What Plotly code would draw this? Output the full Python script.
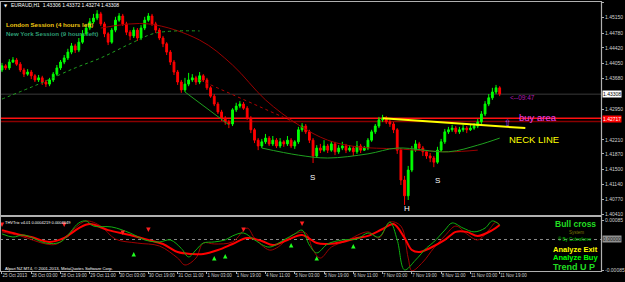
import plotly.graph_objects as go

# ---------------- data ----------------
bars = list(range(137))
first_open = 1.4389
closes = [
    1.4399, 1.4394, 1.4408, 1.4413, 1.4403, 1.4389, 1.4379, 1.4384, 1.4375, 1.4365,
    1.4370, 1.4360, 1.4355, 1.4365, 1.4379, 1.4394, 1.4408, 1.4418, 1.4432, 1.4447,
    1.4437, 1.4456, 1.4476, 1.4490, 1.4505, 1.4514, 1.4524, 1.4500, 1.4476, 1.4456,
    1.4485, 1.4509, 1.4519, 1.4500, 1.4480, 1.4471, 1.4485, 1.4466, 1.4490, 1.4509,
    1.4519, 1.4500, 1.4485, 1.4466, 1.4452, 1.4432, 1.4408, 1.4384, 1.4360, 1.4341,
    1.4355, 1.4365, 1.4370, 1.4360, 1.4375, 1.4365, 1.4346, 1.4326, 1.4307, 1.4288,
    1.4273, 1.4264, 1.4259, 1.4293, 1.4302, 1.4307, 1.4297, 1.4273, 1.4245, 1.4220,
    1.4206, 1.4216, 1.4225, 1.4211, 1.4220, 1.4206, 1.4216, 1.4211, 1.4220, 1.4206,
    1.4216, 1.4245, 1.4254, 1.4240, 1.4220, 1.4182, 1.4201, 1.4196, 1.4206, 1.4196,
    1.4211, 1.4192, 1.4201, 1.4206, 1.4196, 1.4201, 1.4192, 1.4206, 1.4196, 1.4201,
    1.4220, 1.4240, 1.4254, 1.4269, 1.4273, 1.4264, 1.4259, 1.4245, 1.4196, 1.4124,
    1.4086, 1.4148, 1.4196, 1.4211, 1.4201, 1.4192, 1.4182, 1.4177, 1.4167, 1.4196,
    1.4216, 1.4240, 1.4245, 1.4249, 1.4240, 1.4245, 1.4249, 1.4245, 1.4249, 1.4254,
    1.4264, 1.4283, 1.4307, 1.4322, 1.4336, 1.4346, 1.4331]
highs = [
    1.4406, 1.4403, 1.4415, 1.4420, 1.4418, 1.4408, 1.4394, 1.4391, 1.4389, 1.4379,
    1.4377, 1.4375, 1.4365, 1.4370, 1.4384, 1.4401, 1.4413, 1.4425, 1.4440, 1.4454,
    1.4452, 1.4466, 1.4485, 1.4500, 1.4514, 1.4524, 1.4533, 1.4529, 1.4505, 1.4480,
    1.4490, 1.4517, 1.4526, 1.4524, 1.4505, 1.4485, 1.4492, 1.4490, 1.4497, 1.4517,
    1.4526, 1.4524, 1.4505, 1.4490, 1.4471, 1.4456, 1.4437, 1.4413, 1.4389, 1.4365,
    1.4370, 1.4382, 1.4379, 1.4375, 1.4384, 1.4379, 1.4370, 1.4350, 1.4331, 1.4312,
    1.4293, 1.4278, 1.4269, 1.4297, 1.4310, 1.4314, 1.4312, 1.4302, 1.4278, 1.4249,
    1.4225, 1.4223, 1.4235, 1.4230, 1.4230, 1.4225, 1.4225, 1.4220, 1.4230, 1.4225,
    1.4220, 1.4252, 1.4261, 1.4259, 1.4245, 1.4225, 1.4208, 1.4211, 1.4220, 1.4211,
    1.4218, 1.4216, 1.4208, 1.4216, 1.4211, 1.4208, 1.4206, 1.4218, 1.4211, 1.4206,
    1.4225, 1.4245, 1.4259, 1.4276, 1.4281, 1.4278, 1.4269, 1.4264, 1.4249, 1.4201,
    1.4134, 1.4158, 1.4206, 1.4220, 1.4216, 1.4206, 1.4196, 1.4189, 1.4182, 1.4204,
    1.4223, 1.4247, 1.4252, 1.4257, 1.4254, 1.4252, 1.4257, 1.4254, 1.4257, 1.4261,
    1.4271, 1.4290, 1.4314, 1.4331, 1.4346, 1.4353, 1.4350]
lows = [
    1.4384, 1.4389, 1.4389, 1.4406, 1.4399, 1.4384, 1.4372, 1.4375, 1.4367, 1.4360,
    1.4360, 1.4353, 1.4348, 1.4350, 1.4360, 1.4375, 1.4389, 1.4403, 1.4413, 1.4427,
    1.4430, 1.4432, 1.4452, 1.4471, 1.4485, 1.4500, 1.4509, 1.4495, 1.4468, 1.4449,
    1.4452, 1.4480, 1.4505, 1.4495, 1.4473, 1.4461, 1.4466, 1.4459, 1.4461, 1.4485,
    1.4505, 1.4495, 1.4478, 1.4461, 1.4444, 1.4425, 1.4401, 1.4377, 1.4353, 1.4334,
    1.4336, 1.4350, 1.4360, 1.4353, 1.4355, 1.4360, 1.4341, 1.4322, 1.4302, 1.4283,
    1.4266, 1.4257, 1.4249, 1.4254, 1.4288, 1.4297, 1.4293, 1.4269, 1.4237, 1.4213,
    1.4196, 1.4201, 1.4211, 1.4206, 1.4206, 1.4201, 1.4201, 1.4204, 1.4206, 1.4201,
    1.4199, 1.4211, 1.4240, 1.4235, 1.4213, 1.4165, 1.4177, 1.4189, 1.4192, 1.4189,
    1.4192, 1.4184, 1.4187, 1.4196, 1.4189, 1.4192, 1.4182, 1.4187, 1.4189, 1.4194,
    1.4196, 1.4216, 1.4235, 1.4249, 1.4264, 1.4259, 1.4252, 1.4237, 1.4187, 1.4112,
    1.4064, 1.4076, 1.4143, 1.4192, 1.4194, 1.4182, 1.4175, 1.4167, 1.4155, 1.4163,
    1.4192, 1.4211, 1.4235, 1.4240, 1.4235, 1.4235, 1.4240, 1.4237, 1.4242, 1.4245,
    1.4249, 1.4259, 1.4278, 1.4302, 1.4317, 1.4331, 1.4326]
opens = [first_open] + closes[:-1]

# moving averages / trend lines (bar index, price)
slow_ma_bars = [27, 40, 54, 63, 72, 81, 89, 97, 108, 122, 130]
slow_ma_vals = [1.4490, 1.4500, 1.4461, 1.4401, 1.4317, 1.4257, 1.4220, 1.4204, 1.4199, 1.4192, 1.4196]
fast_ma_bars = [0, 10, 20, 27, 35, 42, 54]
fast_ma_vals = [1.4319, 1.4355, 1.4394, 1.4418, 1.4452, 1.4478, 1.4483]
lower_ma_bars = [71, 81, 89, 100, 108, 122, 130, 136]
lower_ma_vals = [1.4201, 1.4184, 1.4177, 1.4187, 1.4201, 1.4192, 1.4208, 1.4225]
green_trend_bars = [50, 62]
green_trend_vals = [1.4336, 1.4257]
red_trend_bars = [54, 81]
red_trend_vals = [1.4365, 1.4259]
neck_bars = [104, 143]
neck_vals = [1.4273, 1.4249]
buy_area_levels = [1.42726, 1.42649]
bid_price = 1.43308

price_ticks = [1.45515, 1.45150, 1.44780, 1.44420, 1.44050, 1.43680, 1.42950,
               1.42210, 1.41870, 1.41500, 1.41140, 1.40770, 1.40410]
label_bars = [0, 8, 16, 24, 32, 40, 48, 56, 64, 72, 80, 88, 96, 104, 112, 120, 128, 136]
time_labels = ["25 Oct 2013", "28 Oct 03:00", "28 Oct 19:00", "29 Oct 11:00", "30 Oct 03:00",
               "30 Oct 19:00", "31 Oct 11:00", "1 Nov 03:00", "1 Nov 19:00", "4 Nov 11:00",
               "5 Nov 03:00", "5 Nov 19:00", "6 Nov 11:00", "7 Nov 03:00", "7 Nov 19:00",
               "8 Nov 11:00", "11 Nov 03:00", "11 Nov 19:00"]

# indicator (THVTrix)
green_bars = [0, 3, 6, 12, 16, 21, 23, 25, 30, 35, 39, 43, 46, 49, 51, 53, 55, 58, 61, 63, 66, 69, 73,
              77, 80, 82, 84, 86, 89, 93, 97, 100, 103, 106, 108, 110, 113, 116, 118, 121, 123, 126,
              129, 132, 134, 136]
green_vals = [0.00025, 0.00011, 0.00020, -0.00016, -0.00011, 0.00074, 0.00083, 0.00060, 0.00056,
              0.00029, -0.00002, -0.00011, -0.00002, -0.00040, -0.00078, -0.00047, -0.00016, -0.00011,
              -0.00002, 0.00016, 0.00029, -0.00002, -0.00034, -0.00002, 0.00025, 0.00042, -0.00025,
              -0.00060, -0.00020, -0.00002, 0.00002, 0.00029, 0.00011, 0.00078, -0.00002, -0.00136,
              -0.00092, -0.00038, -0.00011, 0.00042, 0.00074, 0.00051, 0.00034, 0.00051, 0.00083, 0.00065]
dred_bars = [0, 5, 12, 15, 20, 23, 27, 31, 37, 43, 48, 50, 53, 55, 58, 63, 67, 69, 73, 75, 80, 83, 85,
             87, 90, 94, 100, 103, 106, 109, 111, 112, 115, 118, 121, 124, 127, 130, 133, 135, 136]
dred_vals = [0.00034, 0.00016, -0.00020, -0.00020, 0.00051, 0.00083, 0.00060, 0.00002, -0.00016,
             -0.00029, -0.00083, -0.00114, -0.00083, -0.00016, -0.00020, -0.00011, 0.00051, 0.00007,
             -0.00047, -0.00038, 0.00025, 0.00029, -0.00047, -0.00083, -0.00034, -0.00007, 0.00034,
             0.00007, 0.00078, 0.00060, -0.00083, -0.00140, -0.00101, -0.00038, 0.00016, 0.00060,
             0.00025, -0.00002, 0.00042, 0.00078, 0.00065]
red_bars = [0, 4, 8, 13, 17, 21, 24, 29, 35, 40, 44, 48, 52, 55, 59, 63, 67, 71, 74, 78, 82, 86, 89,
            93, 97, 100, 104, 107, 110, 112, 114, 117, 121, 124, 127, 130, 134, 136]
red_vals = [0.00042, 0.00025, 0.00011, -0.00011, 0.00007, 0.00051, 0.00069, 0.00042, 0.00020,
            -0.00002, -0.00020, -0.00056, -0.00065, -0.00065, -0.00047, -0.00020, 0.00007, -0.00007,
            -0.00025, -0.00002, 0.00020, -0.00016, -0.00020, -0.00011, 0.00007, 0.00016, 0.00047,
            0.00069, 0.00007, -0.00047, -0.00056, -0.00038, -0.00002, 0.00034, 0.00034, 0.00016,
            0.00042, 0.00065]
sell_arrow_bars = [0, 17, 33, 40, 66, 82]
sell_arrow_vals = [0.00056, 0.00056, 0.00020, 0.00034, 0.00034, 0.00060]
buy_arrow_bars = [36, 58, 61, 79, 86, 96]
buy_arrow_vals = [-0.00056, -0.00074, -0.00065, -0.00016, -0.00074, -0.00020]
ind_ticks = [0.00085, -0.00138]
ind_ticktext = ["0.00085", "-0.00085"]

# ---------------- figure ----------------
W, H = 625, 282
ML, MR, MT, MB = 0, 20, 2, 11
PW = W - ML - MR
PH = H - MT - MB
BAR_PX = 3.684
XMIN = -2 / BAR_PX
XMAX = XMIN + PW / BAR_PX


def PX(x):
    return (x - ML) / PW


def PY(y):
    return (H - MB - y) / PH


FONT = "Liberation Sans, Arial, sans-serif"

fig = go.Figure()
fig.add_trace(go.Candlestick(
    x=bars, open=opens, high=highs, low=lows, close=closes,
    increasing=dict(line=dict(color="#00ff00", width=1), fillcolor="#00ff00"),
    decreasing=dict(line=dict(color="#ff0000", width=1), fillcolor="#ff0000"),
    whiskerwidth=0, xaxis="x", yaxis="y", hoverinfo="skip"))

fig.add_trace(go.Scatter(x=slow_ma_bars, y=slow_ma_vals, mode="lines", line=dict(color="#9a0000", width=1, shape="spline"), xaxis="x", yaxis="y"))
fig.add_trace(go.Scatter(x=fast_ma_bars, y=fast_ma_vals, mode="lines", line=dict(color="#1fa01f", width=1, dash="dot", shape="spline"), xaxis="x", yaxis="y"))
fig.add_trace(go.Scatter(x=lower_ma_bars, y=lower_ma_vals, mode="lines", line=dict(color="#1fa01f", width=1, shape="spline"), xaxis="x", yaxis="y"))
fig.add_trace(go.Scatter(x=green_trend_bars, y=green_trend_vals, mode="lines", line=dict(color="#1fa01f", width=1), xaxis="x", yaxis="y"))
fig.add_trace(go.Scatter(x=red_trend_bars, y=red_trend_vals, mode="lines", line=dict(color="#b00000", width=1, dash="dot"), xaxis="x", yaxis="y"))
fig.add_trace(go.Scatter(x=neck_bars, y=neck_vals, mode="lines", line=dict(color="#ffff00", width=2), xaxis="x", yaxis="y", cliponaxis=False))

# indicator
fig.add_trace(go.Scatter(x=dred_bars, y=dred_vals, mode="lines", line=dict(color="#a00000", width=1, shape="spline"), xaxis="x2", yaxis="y2"))
fig.add_trace(go.Scatter(x=red_bars, y=red_vals, mode="lines", line=dict(color="#ff0000", width=2, shape="spline"), xaxis="x2", yaxis="y2"))
fig.add_trace(go.Scatter(x=green_bars, y=green_vals, mode="lines", line=dict(color="#10b010", width=1, shape="spline"), xaxis="x2", yaxis="y2"))
fig.add_trace(go.Scatter(x=sell_arrow_bars, y=sell_arrow_vals, mode="markers", marker=dict(symbol="arrow-down", size=4.5, color="#ff2020"), xaxis="x2", yaxis="y2"))
fig.add_trace(go.Scatter(x=buy_arrow_bars, y=buy_arrow_vals, mode="markers", marker=dict(symbol="arrow-up", size=4.5, color="#20ff20"), xaxis="x2", yaxis="y2"))

grey = "#b0b0b0"
tickfont = dict(size=5, color="#d0d0d0", family=FONT)
fig.update_layout(
    width=W, height=H, margin=dict(l=ML, r=MR, t=MT, b=MB, pad=0),
    paper_bgcolor="black", plot_bgcolor="black", showlegend=False,
    xaxis=dict(domain=[0, 1], anchor="y", range=[XMIN, XMAX], showticklabels=False, showgrid=False,
               zeroline=False, showline=False, ticks="", rangeslider=dict(visible=False)),
    xaxis2=dict(domain=[0, 1], anchor="y2", range=[XMIN, XMAX], tickmode="array", tickvals=label_bars,
                ticktext=time_labels, ticks="outside", ticklen=2, tickcolor=grey, tickangle=0,
                ticklabelposition="outside right", tickfont=dict(size=4.5, color="#d0d0d0", family=FONT),
                showgrid=False, zeroline=False, showline=False),
    yaxis=dict(domain=[(H - MB - 215) / PH, 1], anchor="x", side="right", range=[1.40398, 1.45527],
               tickmode="array", tickvals=price_ticks, ticktext=["%.5f" % v for v in price_ticks],
               ticks="outside", ticklen=2, tickcolor=grey, tickfont=tickfont,
               showgrid=False, zeroline=False, showline=False),
    yaxis2=dict(domain=[0, (H - MB - 217) / PH], anchor="x2", side="right", range=[-0.001409, 0.001006],
                tickmode="array", tickvals=ind_ticks, ticktext=ind_ticktext, ticks="outside", ticklen=2,
                tickcolor=grey, tickfont=tickfont, showgrid=False, zeroline=False, showline=False),
)

# level lines
fig.add_shape(type="line", xref="paper", yref="y", x0=0, x1=1, y0=bid_price, y1=bid_price,
              line=dict(color="#3a3a3a", width=1), layer="below")
fig.add_shape(type="line", xref="paper", yref="y", x0=0, x1=1, y0=buy_area_levels[0], y1=buy_area_levels[0],
              line=dict(color="#ff1010", width=1.5), layer="below")
fig.add_shape(type="line", xref="paper", yref="y", x0=0, x1=1, y0=buy_area_levels[1], y1=buy_area_levels[1],
              line=dict(color="#8a0000", width=1.5), layer="below")
fig.add_shape(type="line", xref="paper", yref="y2", x0=0, x1=1, y0=0, y1=0,
              line=dict(color="#8a8a8a", width=1, dash="dot"), layer="below")

# frame
for (x0, y0, x1, y1, w) in [(0, 1.5, 605.5, 1.5, 1.2), (0.5, 1, 0.5, 272, 1), (605.5, 1, 605.5, 272, 1.2),
                            (0, 216, 605.5, 216, 2.2), (0, 271.5, 605.5, 271.5, 1)]:
    fig.add_shape(type="line", xref="paper", yref="paper", x0=PX(x0), x1=PX(x1), y0=PY(y0), y1=PY(y1),
                  line=dict(color=grey, width=w))


def note(x, y, text, size, color, anchor="left", bold=False, family=FONT, bg=None, yref="paper", ypos=None):
    t = "<b>%s</b>" % text if bold else text
    kw = {}
    if bg:
        kw = dict(bgcolor=bg, borderpad=0)
    fig.add_annotation(x=PX(x), y=(PY(y) if ypos is None else ypos), xref="paper", yref=yref, text=t,
                       showarrow=False, xanchor=anchor, yanchor="middle",
                       font=dict(size=size, color=color, family=family), **kw)


note(2, 5, "▼", 4, "#ffffff", family="DejaVu Sans")
note(9, 5, "EURAUD,H1  1.43306 1.43372 1.43274 1.43308", 5, "#ffffff")
note(4, 24, "London Session (4 hours left)", 6.2, "#f2c811", bold=True)
note(4, 33, "New York Session (9 hours left)", 6.2, "#2e9e74", bold=True)
note(511, 97, "&lt;--09:47", 6.5, "#b01ab0")
note(520, 117, "buy area", 9.5, "#f040f0")
note(511, 123, "⇧", 9, "#b050ff", anchor="center", family="DejaVu Sans")
note(510, 139, "NECK LINE", 9.5, "#ffff00")
note(315, 177, "S", 8, "#ffffff", anchor="center")
note(410, 208, "H", 8, "#ffffff", anchor="center")
note(440, 180, "S", 8, "#ffffff", anchor="center")

# right axis boxes
note(606, 0, "1.43308", 5, "#000000", bg="#ffffff", yref="y", ypos=bid_price)
note(606, 0, "1.42717", 5, "#ffffff", bg="#ff0000", yref="y", ypos=1.42700)
note(606, 0, "0.00000", 5, "#202020", bg="#909090", yref="y2", ypos=0)

# indicator texts
note(3, 222, "THVTrix v4.01 0.0004219 0.0004649", 4, "#ffffff")
note(3, 268, "Alpari NZ MT4, © 2001-2013, MetaQuotes Software Corp.", 4.2, "#ffffff")
note(579, 224, "Bull cross", 8.5, "#22dd22", anchor="center", bold=True)
note(580, 232, "System", 4.5, "#7a7a00", anchor="center")
note(579, 239, "® By Cobraforex", 4.5, "#00c000", anchor="center")
note(555, 249, "Analyze Exit", 7.5, "#ffff00", bold=True)
note(555, 257, "Analyze Buy", 7.5, "#00ff00", bold=True)
note(555, 267, "Trend U P", 9, "#22dd22", bold=True)

fig.write_html("out.html")
